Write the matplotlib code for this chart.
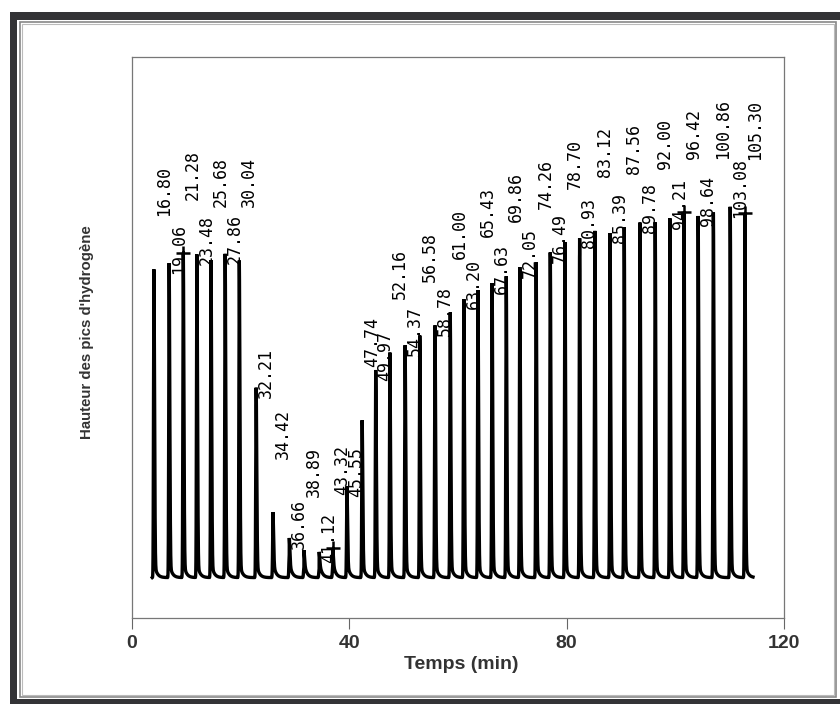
import matplotlib
matplotlib.use("Agg")
import matplotlib.pyplot as plt
import numpy as np
from matplotlib.patches import Rectangle

# Peak apex times (min) and apex heights (axis units, 0-100)
peak_times = [4.1, 6.9, 9.5, 12.0, 14.6, 17.2, 19.8, 22.9, 26.0, 29.0,
              31.7, 34.5, 37.0, 39.6, 42.4, 44.9, 47.5, 50.3, 53.0, 55.8,
              58.6, 61.1, 63.7, 66.3, 68.9, 71.4, 74.4, 77.0, 79.7, 82.4,
              85.2, 88.0, 90.6, 93.5, 96.3, 99.0, 101.6, 104.2, 107.0, 110.1,
              112.8]
peak_heights = [62.2, 63.3, 65.1, 64.9, 63.8, 65.1, 63.8, 41.2, 18.9, 14.3,
                12.1, 11.8, 12.5, 23.5, 35.3, 44.2, 47.4, 48.7, 50.4, 52.2,
                54.5, 57.0, 58.5, 59.7, 61.1, 62.6, 63.5, 65.2, 67.0, 67.9,
                69.2, 68.8, 69.7, 70.6, 70.6, 71.3, 72.4, 71.8, 72.4, 73.3,
                72.2]
# retention times printed by the integrator next to each peak
peak_labels = ["16.80", "19.06", "21.28", "23.48", "25.68", "27.86", "30.04",
               "32.21", "34.42", "36.66", "38.89", "41.12", "43.32", "45.55",
               "47.74", "49.97", "52.16", "54.37", "56.58", "58.78", "61.00",
               "63.20", "65.43", "67.63", "69.86", "72.05", "74.26", "76.49",
               "78.70", "80.93", "83.12", "85.39", "87.56", "89.78", "92.00",
               "94.21", "96.42", "98.64", "100.86", "103.08", "105.30"]
# peaks carrying the integrator's "+" mark
marked_peaks = [2, 12, 36, 40]
baseline = 7.2
trace_start, trace_end = 3.8, 114.3

x_ticks = [0, 40, 80, 120]

W, H = 840, 704
fig = plt.figure(figsize=(W / 100, H / 100), dpi=100)
fig.patch.set_facecolor("white")


def px_rect(x0, y0, x1, y1, **kw):
    # rectangle given in pixel coords measured from the top-left corner
    return Rectangle((x0 / W, 1 - y1 / H), (x1 - x0) / W, (y1 - y0) / H,
                     transform=fig.transFigure, **kw)


# page frame: dark bands at top / left / bottom, thin grey inner outline
dark = "#333336"
fig.patches.append(px_rect(10, 12, 840, 20, facecolor=dark, edgecolor="none"))
fig.patches.append(px_rect(10, 12, 17, 704, facecolor=dark, edgecolor="none"))
fig.patches.append(px_rect(10, 699, 840, 704, facecolor=dark, edgecolor="none"))
fig.patches.append(px_rect(20, 22, 836, 697, facecolor="none", edgecolor="#888888", lw=1.2))
fig.patches.append(px_rect(22, 24, 834, 695, facecolor="none", edgecolor="#bbbbbb", lw=0.8))

ax = fig.add_axes([131.6 / W, 1 - 618 / H, (784 - 131.6) / W, (618 - 57) / H])

# build the chromatogram trace from the read peak list
t = np.linspace(trace_start, trace_end, 12000)
signal = np.full_like(t, baseline)
tail_amp = 3.0
for t0, h in zip(peak_times, peak_heights):
    dt = t - t0
    spike = np.where(dt < 0, np.exp(-0.5 * (dt / 0.07) ** 2), np.exp(-0.5 * (dt / 0.12) ** 2))
    tail = np.where(dt > 0, tail_amp * np.exp(-dt / 0.45), 0.0)
    signal += (h - baseline - tail_amp) * spike + tail

ax.plot(t, signal, color="black", lw=2.4, solid_joinstyle="miter")

# integrator "+" marks on a few apexes
ax.plot([peak_times[i] for i in marked_peaks], [peak_heights[i] for i in marked_peaks],
        ls="none", marker="+", ms=10, mew=1.8, color="black")

# labels alternate between a high and a low row, as printed
for i, (t0, h, lab) in enumerate(zip(peak_times, peak_heights, peak_labels)):
    dy = 38 if i % 2 == 0 else -8
    ax.annotate(lab, (t0, h), xytext=(7, dy), textcoords="offset points",
                rotation=90, ha="center", va="bottom",
                fontsize=12, family="DejaVu Sans Mono", color="black")

ax.set_xlim(0, 120)
ax.set_ylim(0, 100)
ax.set_xticks(x_ticks)
ax.set_xticklabels([str(v) for v in x_ticks])
ax.set_yticks([])
ax.tick_params(axis="x", direction="out", length=8, width=0.8, color="#666666",
               pad=4, labelsize=14, labelcolor="#333333")
for lbl in ax.get_xticklabels():
    lbl.set_fontweight("bold")
    lbl.set_family("Liberation Sans")
for sp in ax.spines.values():
    sp.set_color("#777777")
    sp.set_linewidth(0.9)

ax.set_xlabel("Temps (min)", fontsize=14, fontweight="bold", color="#333333",
              family="Liberation Sans")
ax.xaxis.set_label_coords(0.505, -0.068)
ax.set_ylabel("Hauteur des pics d'hydrogène", fontsize=10.8, fontweight="bold",
              color="#333333", family="Liberation Sans")
ax.yaxis.set_label_coords(-0.058, 0.51)

fig.savefig("out.png", dpi=100)
